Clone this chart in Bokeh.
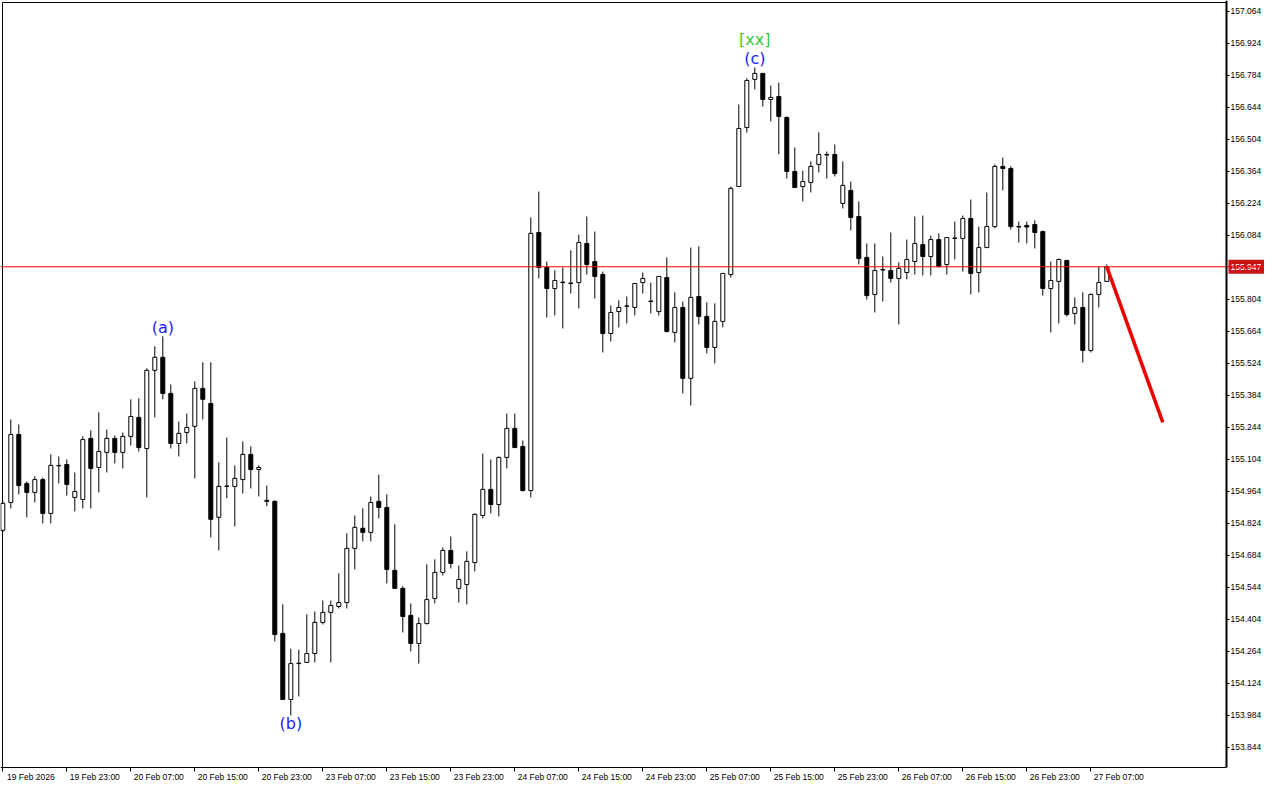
from bokeh.plotting import figure
from bokeh.models import (Range1d, FixedTicker, PrintfTickFormatter, Span, LinearAxis,
                          ColumnDataSource)
from bokeh.core.properties import value
from bokeh.embed import file_html
from bokeh.resources import INLINE

# ---------------- data (hourly candles, 19 Feb 15:00 .. 27 Feb 09:00) ----------------
opens = [154.794, 154.916, 155.213, 154.999, 154.960, 155.016, 154.868, 155.078, 155.082, 154.938,
         154.929, 155.196, 155.069, 155.135, 155.196, 155.135, 155.205, 155.288, 155.152, 155.494,
         155.551, 155.393, 155.174, 155.222, 155.249, 155.415, 155.349, 154.851, 154.986, 154.986,
         155.016, 155.126, 155.060, 154.925, 154.921, 154.343, 154.054, 154.211, 154.216, 154.255,
         154.391, 154.435, 154.461, 154.478, 154.715, 154.803, 154.785, 154.921, 154.894, 154.619,
         154.540, 154.422, 154.299, 154.386, 154.496, 154.610, 154.706, 154.540, 154.557, 154.653,
         154.859, 154.973, 154.907, 155.113, 155.240, 155.161, 154.968, 156.097, 155.944, 155.852,
         155.880, 155.876, 155.878, 156.049, 155.970, 155.913, 155.655, 155.751, 155.774, 155.769,
         155.878, 155.797, 155.751, 155.900, 155.660, 155.769, 155.459, 155.817, 155.730, 155.594,
         155.708, 155.913, 156.298, 156.556, 156.767, 156.793, 156.679, 156.692, 156.600, 156.364,
         156.298, 156.316, 156.395, 156.438, 156.438, 156.224, 156.281, 156.167, 155.988, 155.826,
         155.935, 155.931, 155.896, 155.922, 155.970, 156.044, 155.992, 156.066, 155.957, 156.073,
         156.071, 156.158, 155.922, 156.031, 156.123, 156.386, 156.377, 156.123, 156.128, 156.132,
         156.101, 155.852, 155.883, 155.975, 155.743, 155.769, 155.581, 155.826, 155.883]

highs = [154.925, 155.279, 155.257, 155.008, 155.030, 155.025, 155.126, 155.117, 155.104, 155.047,
         155.205, 155.231, 155.310, 155.235, 155.209, 155.222, 155.367, 155.371, 155.503, 155.599,
         155.643, 155.432, 155.270, 155.305, 155.446, 155.529, 155.529, 155.091, 155.200, 155.078,
         155.183, 155.161, 155.078, 154.990, 154.925, 154.470, 154.276, 154.272, 154.426, 154.439,
         154.487, 154.487, 154.606, 154.781, 154.859, 154.890, 154.942, 155.038, 154.951, 154.820,
         154.549, 154.474, 154.413, 154.645, 154.667, 154.719, 154.767, 154.640, 154.702, 154.868,
         155.130, 155.104, 155.117, 155.305, 155.305, 155.187, 156.163, 156.276, 155.970, 155.931,
         155.944, 156.019, 156.088, 156.167, 156.101, 155.926, 155.778, 155.800, 155.817, 155.874,
         155.922, 155.878, 155.905, 155.988, 155.835, 155.795, 156.031, 156.036, 155.791, 155.787,
         155.918, 156.298, 156.657, 156.771, 156.819, 156.793, 156.740, 156.753, 156.605, 156.469,
         156.368, 156.408, 156.535, 156.451, 156.482, 156.408, 156.320, 156.233, 156.049, 156.049,
         155.992, 156.097, 155.966, 156.066, 156.167, 156.171, 156.084, 156.093, 156.075, 156.145,
         156.171, 156.241, 156.123, 156.272, 156.395, 156.425, 156.386, 156.145, 156.145, 156.150,
         156.106, 155.970, 155.983, 155.975, 155.813, 155.835, 155.830, 155.948, 155.957]

lows = [154.785, 154.890, 154.951, 154.851, 154.916, 154.824, 154.824, 154.999, 154.946, 154.877,
        154.890, 154.890, 154.960, 155.047, 155.087, 155.065, 155.165, 155.139, 154.938, 155.288,
        155.367, 155.152, 155.117, 155.174, 155.021, 155.279, 154.763, 154.706, 154.934, 154.811,
        154.955, 154.977, 154.942, 154.899, 154.308, 154.054, 153.984, 154.067, 154.216, 154.216,
        154.382, 154.216, 154.452, 154.452, 154.623, 154.746, 154.746, 154.846, 154.562, 154.540,
        154.347, 154.264, 154.211, 154.382, 154.474, 154.597, 154.627, 154.478, 154.470, 154.614,
        154.846, 154.868, 154.855, 155.065, 155.156, 154.964, 154.938, 155.896, 155.725, 155.734,
        155.677, 155.830, 155.765, 155.913, 155.808, 155.572, 155.620, 155.682, 155.699, 155.734,
        155.830, 155.743, 155.734, 155.660, 155.616, 155.393, 155.340, 155.695, 155.568, 155.524,
        155.682, 155.900, 156.298, 156.534, 156.723, 156.648, 156.583, 156.439, 156.333, 156.294,
        156.233, 156.272, 156.360, 156.333, 156.342, 156.202, 156.106, 155.957, 155.804, 155.747,
        155.795, 155.878, 155.695, 155.892, 155.913, 155.909, 155.909, 155.944, 155.913, 155.979,
        155.926, 155.826, 155.835, 156.031, 156.115, 156.281, 156.110, 156.053, 156.049, 156.027,
        155.821, 155.660, 155.699, 155.730, 155.695, 155.528, 155.572, 155.769, 155.883]

closes = [154.912, 155.213, 154.990, 154.960, 155.016, 154.868, 155.078, 155.076, 154.995, 154.964,
          155.191, 155.065, 155.139, 155.196, 155.135, 155.205, 155.292, 155.156, 155.494, 155.551,
          155.393, 155.174, 155.218, 155.244, 155.415, 155.367, 154.842, 154.986, 154.988, 155.021,
          155.126, 155.060, 155.069, 154.921, 154.338, 154.054, 154.211, 154.213, 154.255, 154.391,
          154.435, 154.465, 154.478, 154.715, 154.807, 154.785, 154.916, 154.894, 154.623, 154.540,
          154.417, 154.299, 154.386, 154.491, 154.610, 154.706, 154.649, 154.579, 154.658, 154.864,
          154.973, 154.907, 155.113, 155.240, 155.156, 154.968, 156.093, 155.944, 155.852, 155.887,
          155.878, 155.874, 156.053, 155.957, 155.905, 155.655, 155.747, 155.769, 155.776, 155.874,
          155.896, 155.795, 155.905, 155.664, 155.769, 155.459, 155.813, 155.730, 155.594, 155.708,
          155.918, 156.290, 156.552, 156.762, 156.793, 156.679, 156.688, 156.605, 156.364, 156.294,
          156.320, 156.386, 156.438, 156.436, 156.355, 156.303, 156.163, 155.983, 155.821, 155.931,
          155.933, 155.896, 155.940, 155.979, 156.049, 155.992, 156.066, 155.948, 156.075, 156.071,
          156.158, 155.918, 156.031, 156.123, 156.386, 156.377, 156.123, 156.121, 156.121, 156.097,
          155.852, 155.887, 155.979, 155.738, 155.769, 155.581, 155.826, 155.878, 155.947]

time_tick_index = [0, 8, 16, 24, 32, 40, 48, 56, 64, 72, 80, 88, 96, 104, 112, 120, 128, 136]
time_tick_labels = ["19 Feb 2026", "19 Feb 23:00", "20 Feb 07:00", "20 Feb 15:00", "20 Feb 23:00",
                    "23 Feb 07:00", "23 Feb 15:00", "23 Feb 23:00", "24 Feb 07:00", "24 Feb 15:00",
                    "24 Feb 23:00", "25 Feb 07:00", "25 Feb 15:00", "25 Feb 23:00", "26 Feb 07:00",
                    "26 Feb 15:00", "26 Feb 23:00", "27 Feb 07:00"]

price_ticks = [157.064, 156.924, 156.784, 156.644, 156.504, 156.364, 156.224, 156.084,
               155.804, 155.664, 155.524, 155.384, 155.244, 155.104, 154.964, 154.824, 154.684,
               154.544, 154.404, 154.264, 154.124, 153.984, 153.844]

current_price = 155.947

forecast_x = [138, 145]
forecast_y = [155.947, 155.266]

wave_text = ["(a)", "(b)", "(c)", "[xx]"]
wave_x = [20, 36, 94, 94]
wave_y = [155.682, 153.949, 156.858, 156.941]
wave_color = ["#1c1cff", "#1c1cff", "#1c1cff", "#3cc83c"]

# ---------------- layout constants (pixels of the 1264x784 canvas) ----------------
W, H = 1264, 784
CANDLE_PX = 8.0          # one hourly bar = 8 px
X0_PX = 2.3              # pixel centre of the first bar
PX_PER_PRICE = 228.57    # vertical scale
TOP_PRICE = 157.112      # price at the top edge of the canvas


def xd(px):
    return (px - X0_PX) / CANDLE_PX


def yd(px):
    return TOP_PRICE - px / PX_PER_PRICE


AXIS_X = xd(1226)      # right price scale line
AXIS_Y = yd(767)       # time scale line
FRAME_X = xd(2)
FRAME_Y = yd(2)

FONT = "Liberation Sans"
TICK_FONT_SIZE = "8.5px"

p = figure(width=W, height=H, output_backend="svg", toolbar_location=None,
           x_range=Range1d(xd(0), xd(W)), y_range=Range1d(yd(H), yd(0)),
           y_axis_location="right", x_axis_location="below",
           min_border_left=0, min_border_top=0, min_border_right=0, min_border_bottom=0,
           background_fill_color="white", border_fill_color="white")
p.grid.visible = False
p.outline_line_color = None

# chart border (top / left)
p.segment(x0=[FRAME_X, FRAME_X], y0=[FRAME_Y, AXIS_Y], x1=[AXIS_X, FRAME_X], y1=[FRAME_Y, FRAME_Y],
          line_color="black", line_width=1)

# current price line (behind the candles)
p.add_layout(Span(location=current_price, dimension="width", line_color="#ff0000",
                  line_width=1, level="glyph"))

# candles
idx = list(range(len(opens)))
src = ColumnDataSource(dict(
    x=idx, o=opens, h=highs, l=lows, c=closes,
    top=[max(a, b) for a, b in zip(opens, closes)],
    bot=[min(a, b) for a, b in zip(opens, closes)],
    fill=["white" if c >= o else "black" for o, c in zip(opens, closes)],
))
p.segment(x0="x", y0="l", x1="x", y1="h", source=src, line_color="black", line_width=1)
p.vbar(x="x", width=0.5, top="top", bottom="bot", source=src,
       fill_color="fill", line_color="black", line_width=1)

# forecast line
p.line(forecast_x, forecast_y, line_color="#ee0000", line_width=3.5)

# wave labels
p.text(x=wave_x, y=wave_y, text=wave_text, text_color=wave_color,
       text_font=value("DejaVu Sans"), text_font_size="16px",
       text_align="center", text_baseline="middle")

# ---------------- time scale ----------------
xa = p.xaxis[0]
xa.fixed_location = AXIS_Y
xa.bounds = (xd(0), AXIS_X)
xa.ticker = FixedTicker(ticks=time_tick_index)
xa.major_label_overrides = {i: "" for i in time_tick_index}
xa.major_tick_out = 4
xa.major_tick_in = 0
xa.minor_tick_line_color = None
xa.axis_line_color = "black"

# labels written to the right of each tick (MetaTrader style)
LABEL_SHIFT = 3.5
label_ticks = [i + LABEL_SHIFT for i in time_tick_index]
xl = LinearAxis(fixed_location=AXIS_Y,
                ticker=FixedTicker(ticks=label_ticks),
                major_label_overrides={t: s for t, s in zip(label_ticks, time_tick_labels)},
                major_tick_out=3, major_tick_in=0, major_tick_line_color=None,
                minor_tick_line_color=None, axis_line_color=None,
                major_label_standoff=1,
                major_label_text_font=FONT, major_label_text_font_size=TICK_FONT_SIZE,
                major_label_text_color="black")
p.add_layout(xl, "below")

# ---------------- price scale ----------------
ya = p.yaxis[0]
ya.fixed_location = AXIS_X
ya.bounds = (AXIS_Y, yd(0))
ya.ticker = FixedTicker(ticks=price_ticks)
ya.formatter = PrintfTickFormatter(format="%.3f")
ya.major_label_text_font = FONT
ya.major_label_text_font_size = TICK_FONT_SIZE
ya.major_label_text_color = "black"
ya.major_label_standoff = 1
ya.major_tick_out = 3
ya.major_tick_in = 0
ya.minor_tick_line_color = None
ya.axis_line_color = "black"
ya.axis_line_width = 2

# current price tag on the scale
tag_half = 7 / PX_PER_PRICE
p.quad(left=[xd(1228)], right=[xd(W)], bottom=[current_price - tag_half],
       top=[current_price + tag_half], fill_color="#c81414", line_color=None)
p.text(x=[xd(1230)], y=[current_price], text=[f"{current_price:.3f}"], text_color="white",
       text_font=value(FONT), text_font_size=TICK_FONT_SIZE,
       text_align="left", text_baseline="middle")

open("out.html", "w").write(file_html(p, INLINE))
